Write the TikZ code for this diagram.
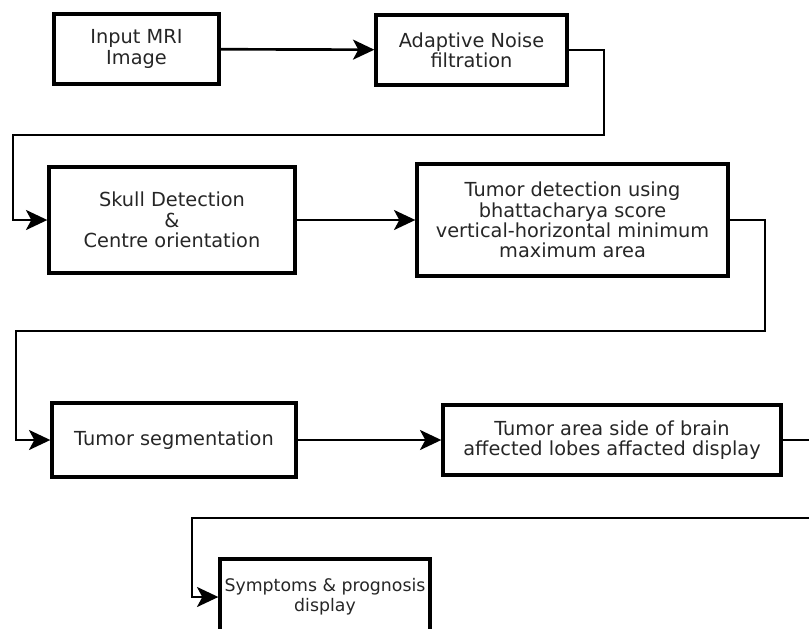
\documentclass[tikz,border=0pt]{standalone}
\usepackage{fontspec}
\setmainfont{DejaVu Sans}
\usepackage{tikz}
\usetikzlibrary{arrows.meta}

\begin{document}
\begin{tikzpicture}[x=0.75pt, y=-0.75pt,
  box/.style={draw, line width=2.5pt, align=center, inner sep=2pt, text=black!85,
              font=\fontsize{14.5}{15.2}\selectfont},
  flow/.style={line width=2pt, -{Stealth[length=16pt,width=15pt,inset=4pt]}}]
  \clip (0,0) rectangle (809,628);
  \node[box, minimum width=123.75pt, minimum height=52.5pt] (b1) at (136.5,49) {Input MRI\\Image};
  \node[box, minimum width=143.25pt, minimum height=52.5pt] (b2) at (471.5,50) {Adaptive Noise\\filtration};
  \node[box, minimum width=184.5pt, minimum height=79.5pt] (b3) at (172,220) {Skull Detection\\\&\\Centre orientation};
  \node[box, minimum width=233.25pt, minimum height=84pt] (b4) at (572.5,220) {Tumor detection using\\bhattacharya score\\vertical-horizontal minimum\\maximum area};
  \node[box, minimum width=183pt, minimum height=55.5pt] (b5) at (174,440) {Tumor segmentation};
  \node[box, minimum width=253.5pt, minimum height=52.5pt] (b6) at (612,440) {Tumor area side of brain\\affected lobes affacted display};
  \node[box, minimum width=157.5pt, minimum height=57pt, font=\fontsize{13}{15.2}\selectfont] (b7) at (325,597) {Symptoms \& prognosis\\display};

  % bends of the long connectors
  \coordinate (k1) at (604,135);
  \coordinate (k2) at (13,135);
  \coordinate (k3) at (765,331);
  \coordinate (k4) at (16,331);
  \coordinate (k5) at (815,518);
  \coordinate (k6) at (192,518);

  \draw[flow] (b1) -- (b2);
  \draw[flow] (b2.east) -| (k1) -- (k2) |- (b3);
  \draw[flow] (b3) -- (b4);
  \draw[flow] (b4.east) -| (k3) -- (k4) |- (b5);
  \draw[flow] (b5) -- (b6);
  \draw[flow] (b6.east) -| (k5) -- (k6) |- (b7);
\end{tikzpicture}
\end{document}
